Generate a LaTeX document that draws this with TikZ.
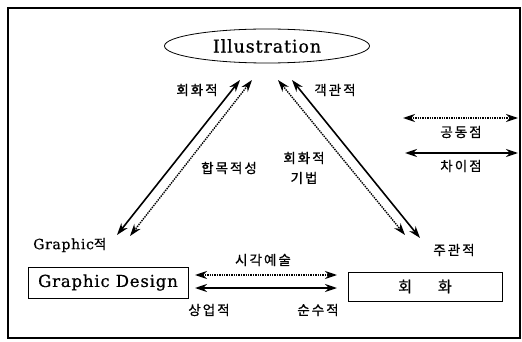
\documentclass[tikz,border=0pt]{standalone}
\usepackage{fontspec}
\setmainfont{DejaVu Serif}
\newfontfamily\kor[LetterSpace=15,FakeBold=0.8]{Noto Sans CJK KR}
\newfontfamily\wide[LetterSpace=5,FakeBold=0.6]{DejaVu Serif}
\usetikzlibrary{arrows.meta,shapes.geometric}

\begin{document}
\begin{tikzpicture}[
    x=1pt, y=-1pt,
    frame/.style={draw, line width=1.2pt},
    field/.style={draw, thick, minimum width=160pt, minimum height=31pt, inner sep=0pt, font=\wide\fontsize{16.5}{17}\selectfont},
    lab/.style={font=\kor\fontsize{13.5}{14}\selectfont, inner sep=0pt},
    diff/.style={{Stealth[length=12pt,width=8pt]}-{Stealth[length=12pt,width=8pt]}, line width=1.6pt},
    same/.style={{Stealth[length=12pt,width=8pt]}-{Stealth[length=12pt,width=8pt]}, line width=1.4pt, dash pattern=on 1.4pt off 1pt}
]
  \useasboundingbox (0,0) rectangle (522,342);
  \draw[frame] (8,8) rectangle (520,338);

  % the three fields
  \node[draw, thick, ellipse, minimum width=205pt, minimum height=34pt, inner sep=0pt,
        font=\wide\fontsize{17.5}{18}\selectfont] (ill) at (267,46) {Illustration};
  \node[field] (gd) at (108,282.5) {Graphic Design};
  \node[field, minimum width=154pt, minimum height=29pt] (pt) at (425,286.5)
       {\kor\fontsize{15}{16}\selectfont 회\hspace{26pt}화};

  % arrow ends
  \coordinate (ls1) at (240,80);  \coordinate (ls2) at (117,235);
  \coordinate (ld1) at (252,80);  \coordinate (ld2) at (130,236);
  \coordinate (rd1) at (278,80);  \coordinate (rd2) at (405,235);
  \coordinate (rs1) at (292,80);  \coordinate (rs2) at (420,238);
  \coordinate (hd1) at (195,275); \coordinate (hd2) at (337,275);
  \coordinate (hs1) at (195,288); \coordinate (hs2) at (337,288);

  \draw[diff] (ls1) -- (ls2);
  \draw[same] (ld1) -- (ld2);
  \draw[same] (rd1) -- (rd2);
  \draw[diff] (rs1) -- (rs2);
  \draw[same] (hd1) -- (hd2);
  \draw[diff] (hs1) -- (hs2);

  % labels
  \node[lab] (l1) at (197,90) {회화적};
  \node[lab] (l2) at (335,90) {객관적};
  \node[lab] (l3) at (229,168) {합목적성};
  \node[lab, align=center] (l4) at (304,168) {회화적\\[6pt]기법};
  \node[lab, anchor=west] (l5) at (33,245) {{\wide\fontsize{14}{14}\selectfont Graphic}적};
  \node[lab] (l6) at (263,260) {시각예술};
  \node[lab] (l7) at (209,310) {상업적};
  \node[lab] (l8) at (318,310) {순수적};
  \node[lab] (l9) at (454,250) {주관적};

  % legend
  \coordinate (k1) at (403,118); \coordinate (k2) at (518,118);
  \coordinate (k3) at (405,153); \coordinate (k4) at (518,153);
  \draw[same] (k1) -- (k2);
  \draw[diff] (k3) -- (k4);
  \node[lab] (kc) at (461,132) {공동점};
  \node[lab] (kd) at (461,166) {차이점};
\end{tikzpicture}
\end{document}
